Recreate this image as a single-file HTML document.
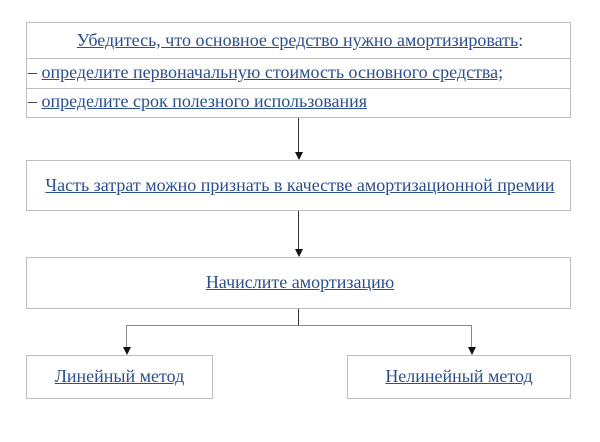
<!DOCTYPE html><html><head><meta charset="utf-8"><style>
body{margin:0;width:600px;height:442px;background:#fff;position:relative;font-family:"Liberation Serif",serif;font-size:18px;color:#2b4f8c;overflow:hidden}
.b{position:absolute;border:1px solid #bdbdbd;box-sizing:border-box;background:#fff}
.t{position:absolute;white-space:nowrap}
u{text-decoration:underline}
.l{position:absolute;background:#333}
.a{position:absolute;width:0;height:0;border-left:4px solid transparent;border-right:4px solid transparent;border-top:8px solid #111}
</style></head><body>
<div class="b" style="left:26px;top:22px;width:545px;height:96px"></div>
<div class="l" style="left:26px;top:58px;width:545px;height:1px;background:#bdbdbd"></div>
<div class="l" style="left:26px;top:88px;width:545px;height:1px;background:#bdbdbd"></div>
<div class="t" style="left:0;width:600px;text-align:center;top:30px"><u>Убедитесь, что основное средство нужно амортизировать</u>:</div>
<div class="t" style="left:28px;top:62px"><span style="color:#333">–</span> <u>определите первоначальную стоимость основного средства;</u></div>
<div class="t" style="left:28px;top:91px"><span style="color:#333">–</span> <u>определите срок полезного использования</u></div>
<div class="l" style="left:298px;top:118px;width:1px;height:36px"></div><div class="a" style="left:294.5px;top:152px"></div>
<div class="b" style="left:26px;top:160px;width:545px;height:51px"></div>
<div class="t" style="left:0;width:600px;text-align:center;top:175px"><u>Часть затрат можно признать в качестве амортизационной премии</u></div>
<div class="l" style="left:298px;top:211px;width:1px;height:40px"></div><div class="a" style="left:294.5px;top:249px"></div>
<div class="b" style="left:26px;top:257px;width:545px;height:52px"></div>
<div class="t" style="left:0;width:600px;text-align:center;top:272px"><u>Начислите амортизацию</u></div>
<div class="l" style="left:298px;top:309px;width:1px;height:16px"></div>
<div class="l" style="left:126px;top:325px;width:346px;height:1px;background:#888"></div>
<div class="l" style="left:126px;top:325px;width:1px;height:24px;background:#888"></div><div class="a" style="left:122.5px;top:347px"></div>
<div class="l" style="left:471px;top:325px;width:1px;height:24px;background:#888"></div><div class="a" style="left:467.5px;top:347px"></div>
<div class="b" style="left:26px;top:355px;width:187px;height:44px"></div>
<div class="t" style="left:26px;width:187px;text-align:center;top:366px"><u>Линейный метод</u></div>
<div class="b" style="left:347px;top:355px;width:224px;height:44px"></div>
<div class="t" style="left:347px;width:224px;text-align:center;top:366px"><u>Нелинейный метод</u></div>
</body></html>
